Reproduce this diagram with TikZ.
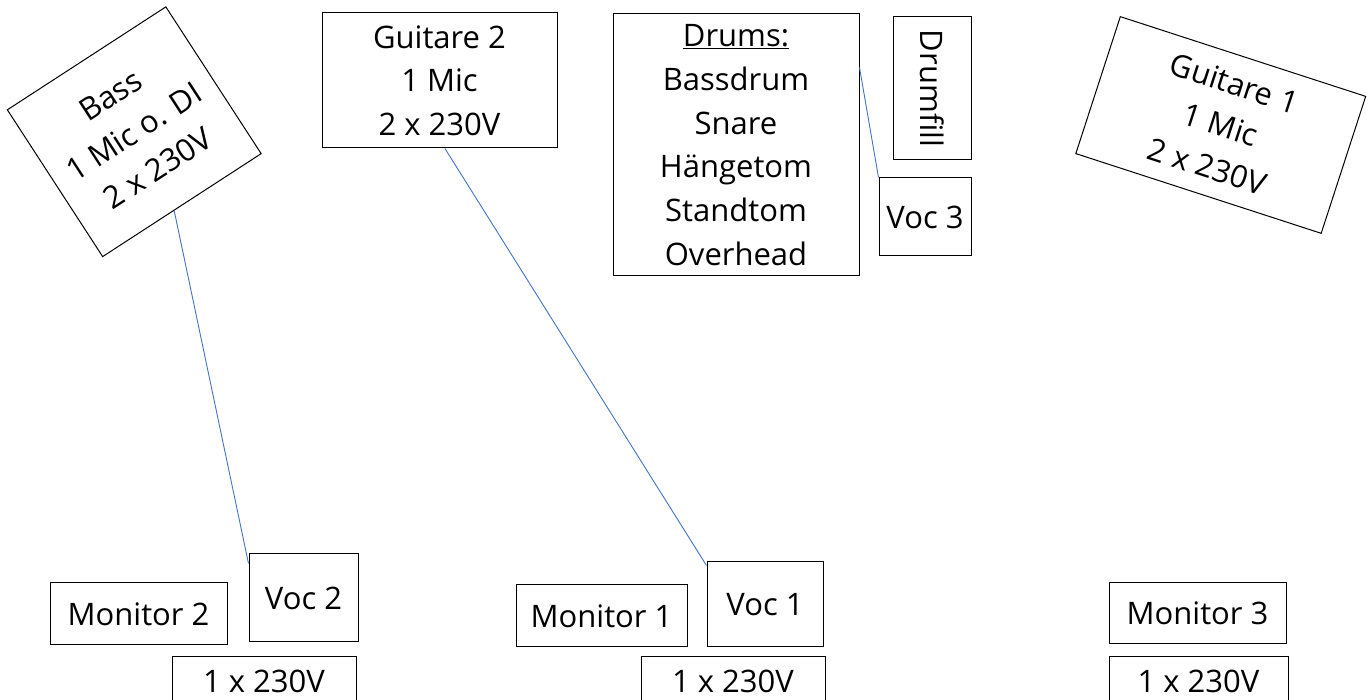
\documentclass[tikz,border=0pt]{standalone}
\usepackage{fontspec}
\setmainfont{Open Sans}
\usetikzlibrary{calc}
\definecolor{linkblue}{HTML}{4472C4}
\tikzset{
  box/.style={draw=black, line width=1pt, inner sep=0pt, align=center,
    font=\fontsize{31}{43.7}\selectfont},
  link/.style={draw=linkblue, line width=0.9pt}
}
\begin{document}
\begin{tikzpicture}[x=1pt,y=1pt]
\useasboundingbox (0,0) rectangle (1368,700);
\begin{scope}
\clip (0,0) rectangle (1368,700);
% top row
\node[box, minimum width=189, minimum height=175, rotate=33] (bass) at (134.25,568.25) {Bass\\1 Mic o. DI\\2 x 230V};
\node[box, minimum width=235, minimum height=135, text depth=-6pt] (g2) at (439.5,619.5) {Guitare 2\\1 Mic\\2 x 230V};
\node[box, minimum width=246, minimum height=262] (drums) at (736,555) {\underline{Drums:}\\Bassdrum\\Snare\\Hängetom\\Standtom\\Overhead};
\node[box, minimum width=143, minimum height=78, rotate=-90] (drumfill) at (932,611.5) {Drumfill};
\node[box, minimum width=92, minimum height=78] (voc3) at (925,483) {Voc 3};
\node[box, minimum width=258, minimum height=144, rotate=-18] (g1) at (1220.75,575) {Guitare 1\\1 Mic\\2 x 230V};
% bottom row
\node[box, minimum width=177, minimum height=62] (mon2) at (138.5,86) {Monitor 2};
\node[box, minimum width=109, minimum height=88] (voc2) at (303.5,102) {Voc 2};
\node[box, minimum width=184, minimum height=48] (pow2) at (264,19) {1 x 230V};
\node[box, minimum width=171, minimum height=62] (mon1) at (601.5,84) {Monitor 1};
\node[box, minimum width=116, minimum height=85] (voc1) at (765,95.5) {Voc 1};
\node[box, minimum width=184, minimum height=48] (pow1) at (733,19) {1 x 230V};
\node[box, minimum width=177, minimum height=61] (mon3) at (1197.5,86.5) {Monitor 3};
\node[box, minimum width=179, minimum height=48] (pow3) at (1198.5,19) {1 x 230V};
% connectors
\draw[link] ($(bass.south west)!0.45!(bass.south east)$) -- ([yshift=-10pt]voc2.north west);
\draw[link] ($(g2.south west)!0.523!(g2.south east)$) -- ([yshift=-4pt]voc1.north west);
\draw[link] ([yshift=-54pt]drums.north east) -- (voc3.north west);
\end{scope}
\end{tikzpicture}
\end{document}
